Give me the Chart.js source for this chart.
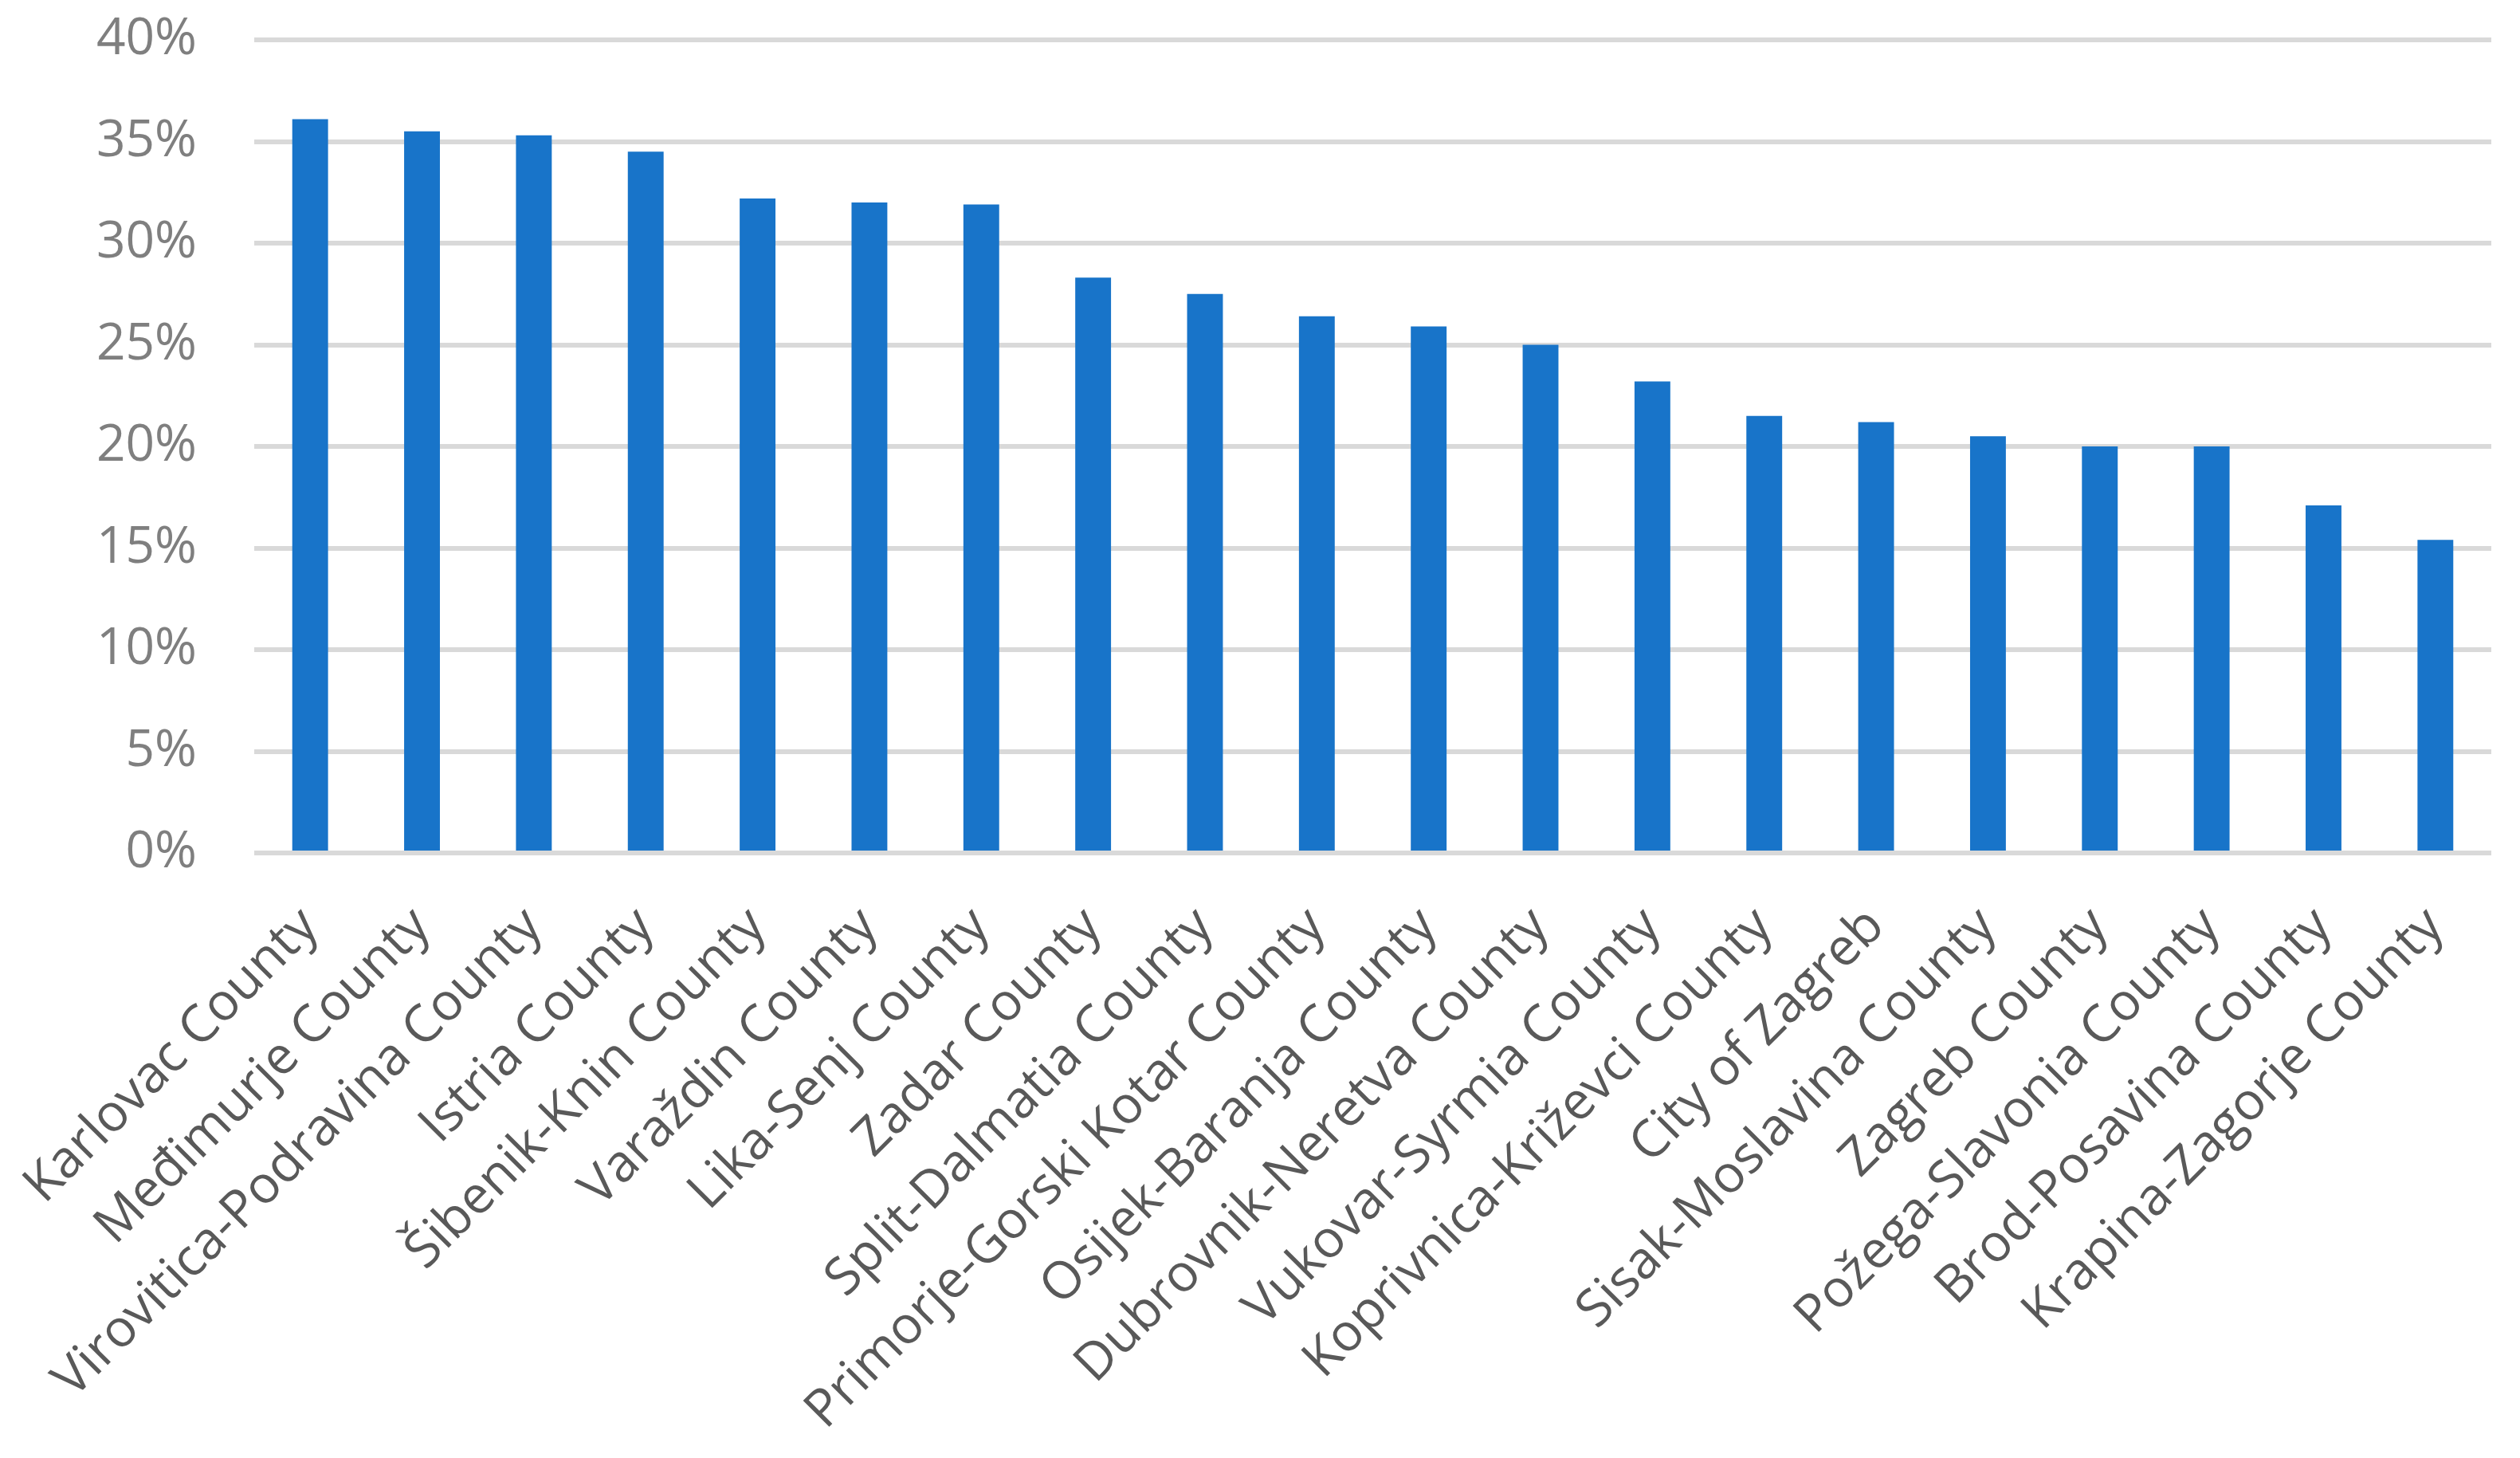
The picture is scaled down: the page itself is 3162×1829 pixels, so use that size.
<!DOCTYPE html>
<html>
<head>
<meta charset="utf-8">
<script src="https://cdn.jsdelivr.net/npm/chart.js@4.4.1/dist/chart.umd.min.js"></script>
<style>
  html, body { margin: 0; padding: 0; background: #fff; }
  canvas { display: block; }
</style>
</head>
<body>
<canvas id="county-chart" width="3162" height="1829"></canvas>
<script>
const counties = [
  'Karlovac County', 'Međimurje County', 'Virovitica-Podravina County', 'Istria County',
  'Šibenik-Knin County', 'Varaždin County', 'Lika-Senj County', 'Zadar County',
  'Split-Dalmatia County', 'Primorje-Gorski Kotar County', 'Osijek-Baranja County',
  'Dubrovnik-Neretva County', 'Vukovar-Syrmia County', 'Koprivnica-Križevci County',
  'City of Zagreb', 'Sisak-Moslavina County', 'Zagreb County', 'Požega-Slavonia County',
  'Brod-Posavina County', 'Krapina-Zagorje County'
];
const shares = [
  36.1, 35.5, 35.3, 34.5, 32.2, 32.0, 31.9, 28.3, 27.5, 26.4,
  25.9, 25.0, 23.2, 21.5, 21.2, 20.5, 20.0, 20.0, 17.1, 15.4
];
const yMin = 0;
const yMax = 40;
const yStep = 5;

Chart.defaults.font.family = "'Open Sans', 'Noto Sans', sans-serif";

const ctx = document.getElementById('county-chart').getContext('2d');
const countyChart = new Chart(ctx, {
  type: 'bar',
  data: {
    labels: counties,
    datasets: [{
      data: shares,
      backgroundColor: '#1874C9',
      borderWidth: 0,
      categoryPercentage: 1.0,
      barPercentage: 0.32
    }]
  },
  options: {
    responsive: false,
    animation: false,
    layout: {
      padding: { top: 50, right: 36, bottom: 0, left: 0 }
    },
    plugins: {
      legend: { display: false },
      tooltip: { enabled: false }
    },
    scales: {
      x: {
        grid: { display: false },
        border: { display: false },
        ticks: {
          autoSkip: false,
          minRotation: 45,
          maxRotation: 45,
          padding: 46,
          color: '#595959',
          font: { size: 65 }
        },
        afterFit: (scale) => {
          scale.height = 759;
          scale.paddingLeft = 0;
          scale.paddingRight = 0;
        }
      },
      y: {
        min: yMin,
        max: yMax,
        grid: {
          color: '#D9D9D9',
          lineWidth: 6,
          drawTicks: false
        },
        border: { display: false },
        ticks: {
          stepSize: yStep,
          padding: 72,
          color: '#7F7F7F',
          font: { size: 64 },
          callback: (value) => value + '%'
        },
        afterFit: (scale) => {
          scale.width = 319;
          scale.paddingTop = 0;
          scale.paddingBottom = 0;
        }
      }
    }
  }
});
</script>
</body>
</html>
